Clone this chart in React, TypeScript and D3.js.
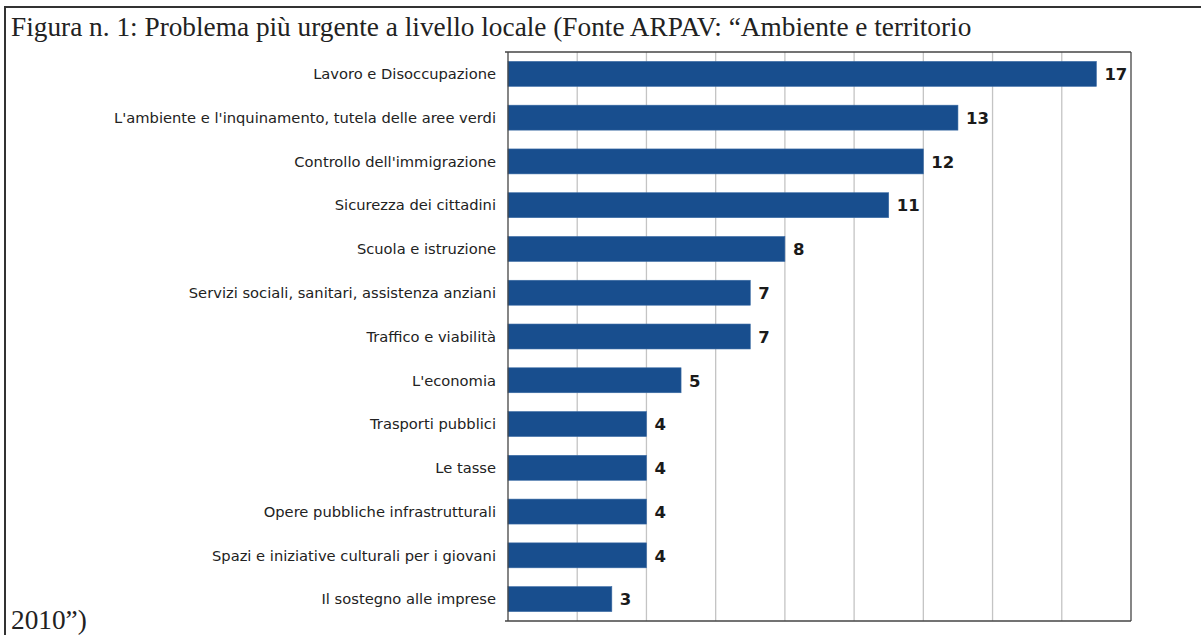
import React from "react";
import * as d3 from "d3";

const categories = [
  "Lavoro e Disoccupazione",
  "L'ambiente e l'inquinamento, tutela delle aree verdi",
  "Controllo dell'immigrazione",
  "Sicurezza dei cittadini",
  "Scuola e istruzione",
  "Servizi sociali, sanitari, assistenza anziani",
  "Traffico e viabilità",
  "L'economia",
  "Trasporti pubblici",
  "Le tasse",
  "Opere pubbliche infrastrutturali",
  "Spazi e iniziative culturali per i giovani",
  "Il sostegno alle imprese",
];
const values = [17, 13, 12, 11, 8, 7, 7, 5, 4, 4, 4, 4, 3];
const xTicks = [0, 2, 4, 6, 8, 10, 12, 14, 16, 18];
const titleLine1 = "Figura n. 1: Problema più urgente a livello locale (Fonte ARPAV: “Ambiente e territorio";
const titleLine2 = "2010”)";

export default function App() {
  const W = 1201, H = 635;
  const left = 508, right = 1131, top = 52, bottom = 621;
  const x = d3.scaleLinear().domain([0, 18]).range([left, right]);
  const y = d3.scaleBand<string>().domain(categories).range([top, bottom]).paddingInner(0.43).paddingOuter(0.215);
  return (
    <svg width={W} height={H} style={{ position: "absolute", left: 0, top: 0, background: "#fff" }}>
      <rect x={0} y={0} width={W} height={H} fill="#fff" />
      <line x1={5} x2={W} y1={7} y2={7} stroke="#333" strokeWidth={2} />
      <line x1={5} x2={5} y1={6} y2={H} stroke="#333" strokeWidth={2} />
      <text x={11} y={36} fontFamily="'Liberation Serif', 'Times New Roman', serif" fontSize={27.3} fill="#222">{titleLine1}</text>
      <text x={11} y={629} fontFamily="'Liberation Serif', 'Times New Roman', serif" fontSize={27.3} fill="#222">{titleLine2}</text>
      {xTicks.slice(1, -1).map((t) => (
        <line key={t} x1={x(t)} x2={x(t)} y1={top} y2={bottom} stroke="#c4c4c4" strokeWidth={1.3} />
      ))}
      {categories.map((c, i) => (
        <g key={c}>
          <rect x={x(0)} y={y(c)} width={x(values[i]) - x(0)} height={y.bandwidth()} fill="#184e8e" stroke="#3a6aa4" strokeWidth={0.6} />
          <text x={left - 12} y={(y(c) as number) + y.bandwidth() / 2} dy="0.36em" textAnchor="end" fontFamily="'DejaVu Sans', Verdana, sans-serif" fontSize={14.7} fill="#222">{c}</text>
          <text x={x(values[i]) + 8} y={(y(c) as number) + y.bandwidth() / 2} dy="0.38em" fontFamily="'DejaVu Sans', Verdana, sans-serif" fontWeight="bold" fontSize={16.5} fill="#1a1a1a">{values[i]}</text>
        </g>
      ))}
      <line x1={left - 3} x2={right} y1={top} y2={top} stroke="#444" strokeWidth={1.3} />
      <line x1={left - 3} x2={right} y1={bottom} y2={bottom} stroke="#444" strokeWidth={1.3} />
      <line x1={left} x2={left} y1={top} y2={bottom} stroke="#444" strokeWidth={1.3} />
      <line x1={right} x2={right} y1={top} y2={bottom} stroke="#444" strokeWidth={1.3} />
    </svg>
  );
}
